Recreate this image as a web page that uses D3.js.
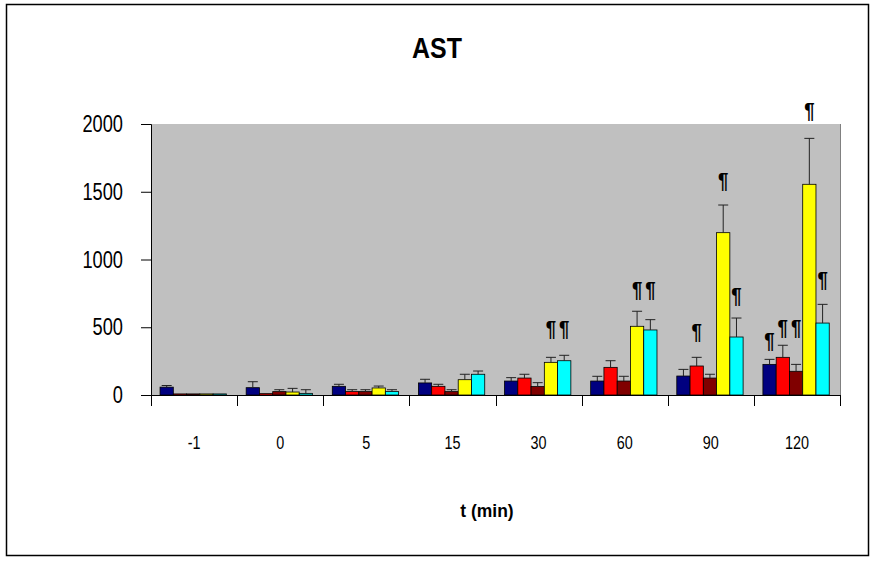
<!DOCTYPE html>
<html>
<head>
<meta charset="utf-8">
<script src="https://cdn.jsdelivr.net/npm/d3@7"></script>
<style>
  html, body { margin: 0; padding: 0; background: #fff; }
  svg { display: block; font-family: Arial, "Liberation Sans", sans-serif; }
</style>
</head>
<body>
<svg id="chart" width="874" height="563"></svg>
<script>
// ---- data ----
const categories = ["-1", "0", "5", "15", "30", "60", "90", "120"];
const seriesNames = ["Group A", "Group B", "Group C", "Group D", "Group E"];
const seriesColors = ["#000080", "#FF0000", "#800000", "#FFFF00", "#00FFFF"];

const meanA = [58, 54, 64, 89, 103, 103, 140, 226];
const meanB = [8, 10, 25, 64, 125, 204, 214, 278];
const meanC = [8, 25, 25, 25, 62, 103, 125, 175];
const meanD = [8, 22, 52, 113, 241, 507, 1198, 1555];
const meanE = [8, 12, 25, 153, 253, 480, 428, 531];

const errA = [12, 44, 15, 27, 25, 35, 49, 37];
const errB = [0, 0, 14, 15, 28, 49, 64, 89];
const errC = [0, 14, 14, 14, 29, 35, 28, 51];
const errD = [0, 27, 14, 40, 37, 111, 204, 339];
const errE = [0, 27, 14, 24, 40, 76, 140, 138];

const yTicks = [0, 500, 1000, 1500, 2000];

// significance markers (¶): category, series index, level (in y units)
const sigCategory = ["30", "30", "60", "60", "90", "90", "90", "120", "120", "120", "120", "120"];
const sigSeries   = [3, 4, 3, 4, 1, 3, 4, 0, 1, 2, 3, 4];
const sigLevel    = [428, 428, 716, 716, 406, 1520, 672, 339, 435, 435, 2037, 790];

const means = [meanA, meanB, meanC, meanD, meanE];
const errs = [errA, errB, errC, errD, errE];

// ---- layout ----
const svg = d3.select("#chart");
const plot = { left: 151, right: 840, top: 124, bottom: 395 };
const FONT = "Arial, 'Liberation Sans', sans-serif";

svg.append("rect").attr("x", 0).attr("y", 0).attr("width", 874).attr("height", 563).attr("fill", "#fff");
svg.append("rect").attr("x", 6.5).attr("y", 4.5).attr("width", 862).attr("height", 551)
  .attr("fill", "none").attr("stroke", "#000").attr("stroke-width", 1.5);

const x0 = d3.scaleBand().domain(categories).range([plot.left, plot.right]).paddingInner(0).paddingOuter(0);
const bw = x0.bandwidth();
const x1 = d3.scaleBand().domain(d3.range(seriesNames.length)).range([bw * 0.105, bw * 0.875]);
const y = d3.scaleLinear().domain([0, 2000]).range([plot.bottom, plot.top]);

// plot background
svg.append("rect").attr("x", plot.left).attr("y", plot.top)
  .attr("width", plot.right - plot.left).attr("height", plot.bottom - plot.top)
  .attr("fill", "#C0C0C0");
svg.append("line").attr("x1", plot.right + 0.5).attr("x2", plot.right + 0.5)
  .attr("y1", plot.top).attr("y2", plot.bottom).attr("stroke", "#808080").attr("stroke-width", 1);

// bars
const barData = [];
categories.forEach((c, ci) => {
  seriesNames.forEach((s, si) => {
    barData.push({ c, si, v: means[si][ci], e: errs[si][ci] });
  });
});

const g = svg.append("g");
g.selectAll("rect.bar").data(barData).enter().append("rect")
  .attr("class", "bar")
  .attr("x", d => x0(d.c) + x1(d.si))
  .attr("y", d => y(d.v))
  .attr("width", x1.bandwidth())
  .attr("height", d => y(0) - y(d.v))
  .attr("fill", d => seriesColors[d.si])
  .attr("stroke", "#000").attr("stroke-width", 0.8);

// error bars (upward only)
const cx = d => x0(d.c) + x1(d.si) + x1.bandwidth() / 2;
const eb = g.selectAll("g.err").data(barData.filter(d => d.e > 0)).enter().append("g").attr("class", "err");
eb.append("line")
  .attr("x1", cx).attr("x2", cx)
  .attr("y1", d => y(d.v)).attr("y2", d => y(d.v + d.e))
  .attr("stroke", "#222").attr("stroke-width", 1);
eb.append("line")
  .attr("x1", d => cx(d) - 5).attr("x2", d => cx(d) + 5)
  .attr("y1", d => y(d.v + d.e)).attr("y2", d => y(d.v + d.e))
  .attr("stroke", "#222").attr("stroke-width", 1);

// significance markers
const sigData = sigCategory.map((c, i) => ({ c, si: sigSeries[i], lv: sigLevel[i] }));
svg.selectAll("text.sig").data(sigData).enter().append("text")
  .attr("class", "sig")
  .attr("transform", d => `translate(${cx(d)},${y(d.lv) - 1}) scale(0.85,1)`)
  .attr("text-anchor", "middle")
  .attr("font-size", "22px").attr("font-weight", "bold")
  .text("¶");

// y axis
const yAxis = d3.axisLeft(y).tickValues(yTicks).tickSize(10).tickPadding(18).tickFormat(d3.format("d"));
const ya = svg.append("g").attr("transform", `translate(${plot.left},0)`).call(yAxis);
ya.select(".domain").attr("stroke", "#000");
ya.selectAll(".tick line").attr("stroke", "#000");
ya.selectAll(".tick text").attr("font-size", "24px").attr("fill", "#000")
  .attr("font-family", FONT)
  .attr("x", -28 / 0.76).attr("transform", "scale(0.76,1)");

// x axis: labels centered, ticks at group boundaries
const xAxis = d3.axisBottom(x0).tickSize(0).tickPadding(41);
const xa = svg.append("g").attr("transform", `translate(0,${plot.bottom})`).call(xAxis);
xa.select(".domain").remove();
xa.selectAll(".tick text").attr("font-size", "18px").attr("fill", "#000")
  .attr("font-family", FONT).attr("transform", "scale(0.8,1)");

svg.append("line").attr("x1", plot.left - 10).attr("x2", plot.right)
  .attr("y1", plot.bottom + 0.5).attr("y2", plot.bottom + 0.5)
  .attr("stroke", "#000").attr("stroke-width", 1);
const boundaries = categories.map(c => x0(c)).concat([plot.right]);
svg.selectAll("line.xtick").data(boundaries).enter().append("line")
  .attr("class", "xtick")
  .attr("x1", d => Math.round(d) + 0.5).attr("x2", d => Math.round(d) + 0.5)
  .attr("y1", plot.bottom).attr("y2", plot.bottom + 11)
  .attr("stroke", "#000").attr("stroke-width", 1);

// titles
svg.append("text").attr("transform", "translate(437,58) scale(0.86,1)").attr("text-anchor", "middle")
  .attr("font-size", "29px").attr("font-weight", "bold").text("AST");
svg.append("text").attr("transform", "translate(487,517) scale(0.92,1)").attr("text-anchor", "middle")
  .attr("font-size", "19px").attr("font-weight", "bold").text("t (min)");
</script>
</body>
</html>
